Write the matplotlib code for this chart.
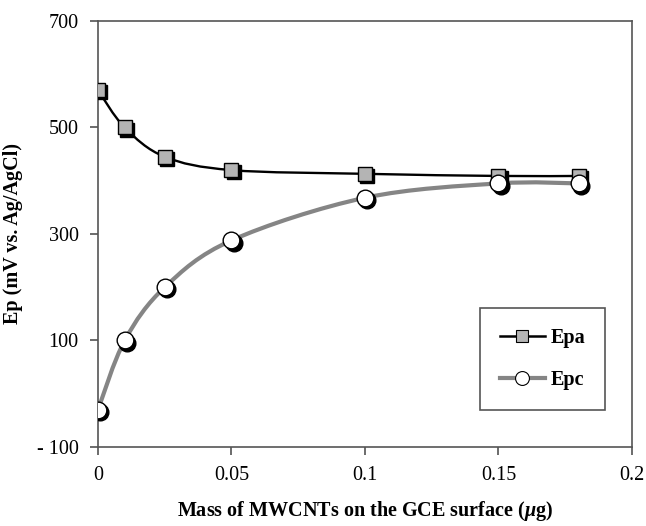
import matplotlib
matplotlib.use('Agg')
import matplotlib.pyplot as plt
from matplotlib.path import Path
from matplotlib.patches import PathPatch
from matplotlib.transforms import offset_copy
import numpy as np

# MWCNT mass on the electrode (ug)
mass = [0, 0.01, 0.025, 0.05, 0.1, 0.15, 0.18]
# anodic / cathodic peak potentials (mV vs Ag/AgCl)
epa = [570, 500, 445, 420, 413, 409, 409]
epc = [-30, 100, 200, 288, 368, 395, 395]

x_ticks = [0, 0.05, 0.1, 0.15, 0.2]
x_tick_labels = ['0', '0.05', '0.1', '0.15', '0.2']
y_ticks = [-100, 100, 300, 500, 700]
y_tick_labels = ['- 100', '100', '300', '500', '700']

plt.rcParams['font.family'] = ['Liberation Serif', 'DejaVu Serif']
plt.rcParams['mathtext.fontset'] = 'custom'
plt.rcParams['mathtext.it'] = 'Liberation Serif:italic:bold'
plt.rcParams['mathtext.rm'] = 'Liberation Serif:bold'


def smooth_path(xs, ys):
    # cubic bezier through every point, spreadsheet-style smoothing
    pts = np.column_stack([xs, ys]).astype(float)
    n = len(pts)
    verts = [pts[0]]
    codes = [Path.MOVETO]
    for i in range(n - 1):
        p0 = pts[i - 1] if i > 0 else pts[i]
        p1 = pts[i]
        p2 = pts[i + 1]
        p3 = pts[i + 2] if i + 2 < n else pts[i + 1]
        c1 = p1 + (p2 - p0) / 6.0
        c2 = p2 - (p3 - p1) / 6.0
        verts += [c1, c2, p2]
        codes += [Path.CURVE4] * 3
    return Path(verts, codes)


fig = plt.figure(figsize=(6.46, 5.26), dpi=100)
ax = fig.add_axes([0.1517, 0.1502, 0.8266, 0.8099])

ax.add_patch(PathPatch(smooth_path(mass, epa), fill=False, edgecolor='black',
                       lw=1.7, zorder=2, capstyle='round'))
ax.add_patch(PathPatch(smooth_path(mass, epc), fill=False, edgecolor='#858585',
                       lw=3.0, zorder=2, capstyle='round'))

# drop shadows under the markers
shadow = offset_copy(ax.transData, fig=fig, x=2.2, y=-2.2, units='dots')
ax.plot(mass, epa, 's', ms=10.5, color='black', transform=shadow, zorder=3)
ax.plot(mass, epc, 'o', ms=12, color='black', transform=shadow, zorder=3)

ax.plot(mass, epa, 's', ms=10.5, mfc='#b4b4b4', mec='black', mew=1.0, zorder=4)
ax.plot(mass, epc, 'o', ms=12, mfc='white', mec='black', mew=1.0, zorder=4)

# legend handles
h1, = ax.plot([], [], '-s', color='black', lw=1.8, ms=9, mfc='#b4b4b4', mec='black', mew=0.8)
h2, = ax.plot([], [], '-o', color='#858585', lw=3.0, ms=10, mfc='white', mec='black', mew=0.8)
leg = ax.legend([h1, h2], ['Epa', 'Epc'], loc='center', bbox_to_anchor=(0.833, 0.207),
                prop={'weight': 'bold', 'size': 14.5}, frameon=True, fancybox=False,
                edgecolor='#555555', framealpha=1, handlelength=2.2, handletextpad=0.3,
                labelspacing=1.1, borderpad=1.0, borderaxespad=0)
leg.get_frame().set_linewidth(1.2)

ax.set_xlim(0, 0.2)
ax.set_ylim(-100, 700)
ax.set_xticks(x_ticks)
ax.set_xticklabels(x_tick_labels)
ax.set_yticks(y_ticks)
ax.set_yticklabels(y_tick_labels)
ax.tick_params(direction='out', length=6, width=1.1, color='#444444',
               labelsize=14.5, pad=8)
for s in ax.spines.values():
    s.set_color('#555555')
    s.set_linewidth(1.2)

ax.set_xlabel(r'Mass of MWCNTs on the GCE surface ($\mu$g)', fontsize=14.5,
              fontweight='bold', labelpad=10)
ax.set_ylabel('Ep (mV vs. Ag/AgCl)', fontsize=14.5, fontweight='bold', labelpad=10)

fig.savefig('out.png', dpi=100)
